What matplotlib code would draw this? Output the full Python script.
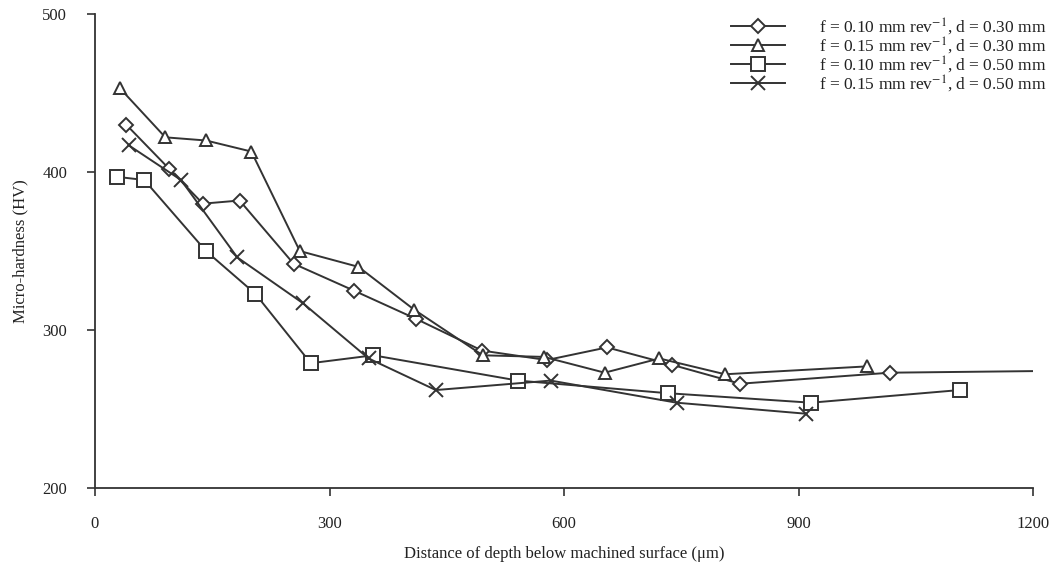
import matplotlib

matplotlib.use("Agg")
import matplotlib.pyplot as plt

plt.rcParams["font.family"] = ["Liberation Serif", "DejaVu Serif"]
plt.rcParams["mathtext.fontset"] = "stix"

# f = 0.10 mm/rev, d = 0.30 mm (line runs on to 1200 without a marker)
depth_a = [40, 95, 138, 185, 254, 331, 411, 495, 578, 655, 738, 825, 1017, 1200]
hv_a = [430, 402, 380, 382, 342, 325, 307, 287, 281, 289, 278, 266, 273, 274]
# f = 0.15 mm/rev, d = 0.30 mm
depth_b = [32, 90, 142, 200, 262, 337, 408, 496, 574, 652, 722, 806, 988]
hv_b = [453, 422, 420, 413, 350, 340, 313, 284, 283, 273, 282, 272, 277]
# f = 0.10 mm/rev, d = 0.50 mm
depth_c = [28, 63, 142, 205, 276, 356, 541, 733, 916, 1106]
hv_c = [397, 395, 350, 323, 279, 284, 268, 260, 254, 262]
# f = 0.15 mm/rev, d = 0.50 mm
depth_d = [43, 110, 182, 266, 350, 436, 583, 744, 910]
hv_d = [417, 395, 346, 317, 282, 262, 268, 254, 247]

labels = [
    "f = 0.10 mm rev$^{-1}$, d = 0.30 mm",
    "f = 0.15 mm rev$^{-1}$, d = 0.30 mm",
    "f = 0.10 mm rev$^{-1}$, d = 0.50 mm",
    "f = 0.15 mm rev$^{-1}$, d = 0.50 mm",
]
x_ticks = [0, 300, 600, 900, 1200]
y_ticks = [200, 300, 400, 500]

ink = "#333333"
fig = plt.figure(figsize=(10.52, 5.65), dpi=100)
ax = fig.add_axes([0.0903, 0.1363, 0.8917, 0.8387])

style = dict(color=ink, lw=1.4, mfc="white", mec=ink, mew=1.4)
ax.plot(depth_a, hv_a, marker="D", ms=7, markevery=list(range(len(depth_a) - 1)),
        label=labels[0], **style)
ax.plot(depth_b, hv_b, marker="^", ms=9, label=labels[1], **style)
ax.plot(depth_c, hv_c, marker="s", ms=10, label=labels[2], **style)
ax.plot(depth_d, hv_d, marker="x", ms=10, label=labels[3], **style)

ax.set_xlim(0, 1200)
ax.set_ylim(200, 500)
ax.set_xticks(x_ticks)
ax.set_yticks(y_ticks)
ax.spines[["top", "right"]].set_visible(False)
for s in ("left", "bottom"):
    ax.spines[s].set_color(ink)
    ax.spines[s].set_linewidth(1.3)
    ax.spines[s].set_clip_on(False)
ax.tick_params(direction="out", length=6, width=1.2, color=ink, labelsize=12,
               labelcolor="#222222", pad=14)
ax.set_xlabel("Distance of depth below machined surface (\u03bcm)", fontsize=12,
              color="#222222", labelpad=10)
ax.set_ylabel("Micro-hardness (HV)", fontsize=12, color="#222222", labelpad=10)

ax.legend(loc="upper right", bbox_to_anchor=(1.01, 1.0), bbox_transform=fig.transFigure,
          frameon=False, fontsize=12.5, handlelength=3.1, handletextpad=2.0,
          labelspacing=-0.1, labelcolor="#222222")

fig.savefig("out.png", dpi=100)
plt.close(fig)
